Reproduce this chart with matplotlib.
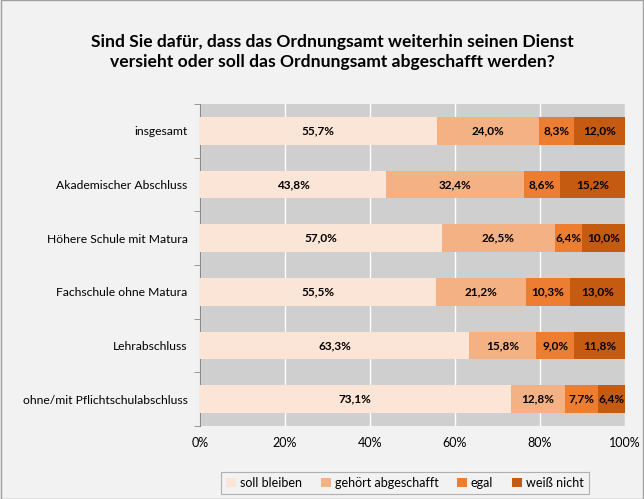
import matplotlib
matplotlib.use("Agg")
import matplotlib.pyplot as plt
from matplotlib.patches import Rectangle
import numpy as np

plt.rcParams['font.family'] = ['Lato', 'DejaVu Sans']

categories = ["insgesamt", "Akademischer Abschluss", "Höhere Schule mit Matura",
              "Fachschule ohne Matura", "Lehrabschluss", "ohne/mit Pflichtschulabschluss"]
series_names = ["soll bleiben", "gehört abgeschafft", "egal", "weiß nicht"]
soll_bleiben = [55.7, 43.8, 57.0, 55.5, 63.3, 73.1]
gehoert_abgeschafft = [24.0, 32.4, 26.5, 21.2, 15.8, 12.8]
egal = [8.3, 8.6, 6.4, 10.3, 9.0, 7.7]
weiss_nicht = [12.0, 15.2, 10.0, 13.0, 11.8, 6.4]
xtick_labels = ["0%", "20%", "40%", "60%", "80%", "100%"]

series = [soll_bleiben, gehoert_abgeschafft, egal, weiss_nicht]
colors = ["#fbe5d6", "#f4b183", "#ed7d31", "#c55a11"]

fig = plt.figure(figsize=(6.44, 4.99), dpi=100, facecolor="#f2f2f2")
ax = fig.add_axes([200/644, 1-426/499, 425/644, (426-104)/499])
ax.set_facecolor("#d0cfd0")

y = np.arange(len(categories))
left = np.zeros(len(categories))
for name, vals, c in zip(series_names, series, colors):
    vals = np.array(vals)
    ax.barh(y, vals, left=left, height=0.52, color=c, label=name, zorder=3)
    for yi, l, v in zip(y, left, vals):
        ax.text(l + v/2, yi, f"{v:.1f}%".replace(".", ","), ha="center", va="center",
                fontsize=8.5, fontweight="bold", color="black", zorder=4)
    left += vals

ax.set_xlim(0, 100)
ax.set_ylim(len(categories)-0.5, -0.5)
ax.set_xticks(np.arange(0, 101, 20))
ax.set_xticklabels(xtick_labels, fontsize=9)
ax.set_yticks(y)
ax.set_yticklabels(categories, fontsize=8.7)
ax.tick_params(axis='y', length=0, pad=9)
ax.tick_params(axis='x', length=0, pad=8)
ax.set_yticks(np.arange(-0.5, len(categories)), minor=True)
ax.tick_params(axis='y', which='minor', length=4, color="#888888")
ax.grid(axis='x', color="white", linewidth=1, zorder=1)
for s in ["top", "right", "bottom"]:
    ax.spines[s].set_visible(False)
ax.spines["left"].set_color("#888888")

fig.text(0.516, 1-52/499, "Sind Sie dafür, dass das Ordnungsamt weiterhin seinen Dienst\nversieht oder soll das Ordnungsamt abgeschafft werden?",
         ha="center", va="center", fontsize=12.6, fontweight="bold", linespacing=1.25)

leg = fig.legend(loc="center", bbox_to_anchor=(405/644, 1-483/499), ncol=4, fontsize=9,
                 frameon=True, fancybox=False, edgecolor="#a0a0a0", facecolor="#f2f2f2",
                 handlelength=0.8, handleheight=0.8, handletextpad=0.3, columnspacing=1.5,
                 borderpad=0.4)
leg.get_frame().set_linewidth(0.8)

fig.patches.append(Rectangle((0.001, 0.001), 0.998, 0.998, transform=fig.transFigure,
                             fill=False, edgecolor="#a0a0a0", linewidth=1))

fig.savefig("out.png", dpi=100, facecolor=fig.get_facecolor())
